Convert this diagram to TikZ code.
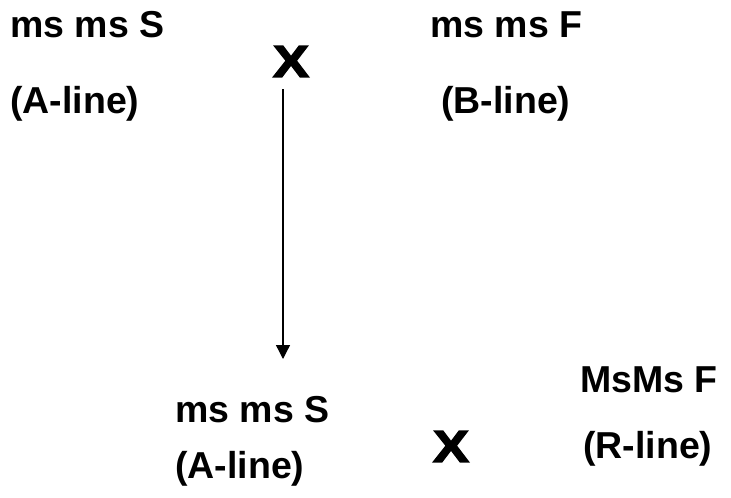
\documentclass[tikz,border=0pt]{standalone}
\usepackage{fontspec}
\setmainfont{Liberation Sans}
\newfontfamily\xfont[FakeBold=3]{Liberation Sans Bold}
\usetikzlibrary{arrows.meta}
\begin{document}
\begin{tikzpicture}[x=1pt,y=-1pt,
  lbl/.style={anchor=base west,inner sep=0pt,font=\fontsize{37.5}{40}\selectfont\bfseries},
  cross/.style={inner sep=0pt,font=\xfont\fontsize{45}{50}\selectfont}]
\useasboundingbox (0,0) rectangle (731,498);
\node[lbl] (s1) at (10,37) {ms ms S};
\node[lbl] (a1) at (10,113) {(A-line)};
\node[cross] (x1) at (291,61.5) {\scalebox{1.2}[1]{X}};
\node[lbl] (f1) at (430,37) {ms ms F};
\node[lbl] (b1) at (441,113) {(B-line)};
\node[lbl] (s2) at (175,422) {ms ms S};
\node[lbl] (a2) at (175,478) {(A-line)};
\node[cross] (x2) at (451,446.5) {\scalebox{1.2}[1]{X}};
\node[lbl] (f2) at (580,392) {MsMs F};
\node[lbl] (r2) at (583,458) {(R-line)};
\coordinate (p) at (283,89);
\coordinate (q) at (283,359);
\draw[line width=1.3pt,-{Triangle[width=14pt,length=14pt]}] (p) -- (q);
\end{tikzpicture}
\end{document}
